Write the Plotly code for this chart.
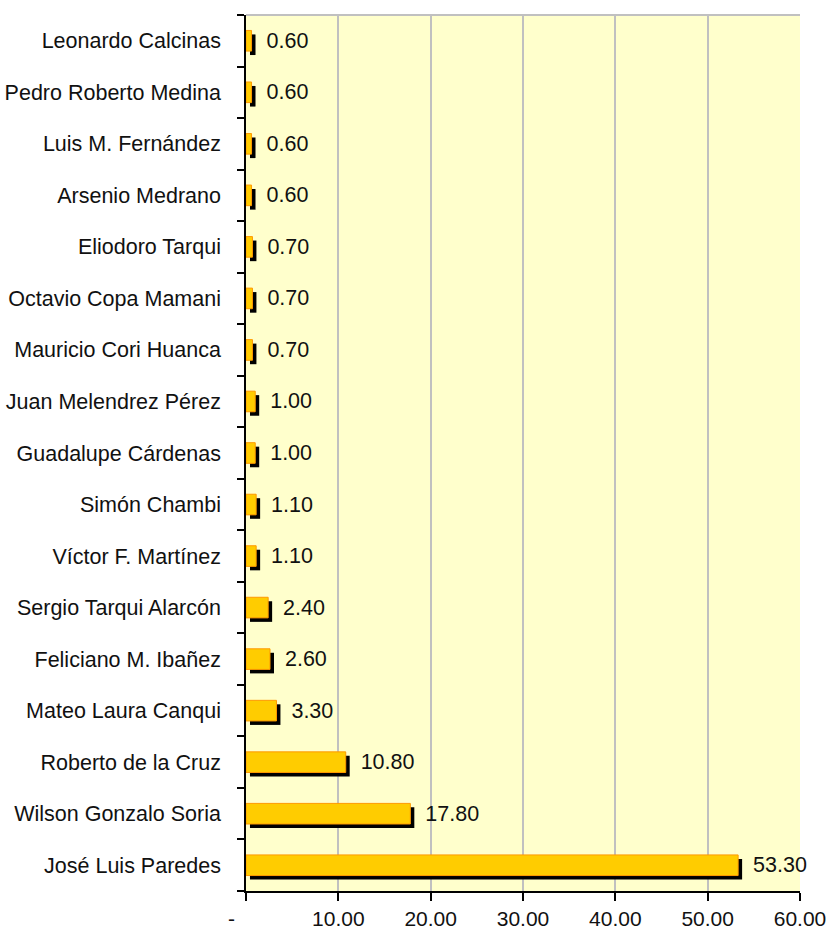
import plotly.graph_objects as go

# Data (top to bottom as shown in the chart)
names = [
    "Leonardo Calcinas", "Pedro Roberto Medina", "Luis M. Fernández", "Arsenio Medrano",
    "Eliodoro Tarqui", "Octavio Copa Mamani", "Mauricio Cori Huanca", "Juan Melendrez Pérez",
    "Guadalupe Cárdenas", "Simón Chambi", "Víctor F. Martínez", "Sergio Tarqui Alarcón",
    "Feliciano M. Ibañez", "Mateo Laura Canqui", "Roberto de la Cruz", "Wilson Gonzalo Soria",
    "José Luis Paredes",
]
values = [0.6, 0.6, 0.6, 0.6, 0.7, 0.7, 0.7, 1.0, 1.0, 1.1, 1.1, 2.4, 2.6, 3.3, 10.8, 17.8, 53.3]
tick_vals = [0, 10, 20, 30, 40, 50, 60]
tick_text = ["-\u00a0\u00a0\u00a0\u00a0\u00a0", "10.00", "20.00", "30.00", "40.00", "50.00", "60.00"]

# Plotly stacks categories bottom-up, so reverse
y_cat = names[::-1]
x_val = values[::-1]
labels = ["\u00a0\u00a0" + f"{v:.2f}" for v in x_val]

FONT = "Liberation Sans, Arial, sans-serif"
shadow_dx = 0.43      # shadow shift along value axis (style)
bar_w = 0.40

fig = go.Figure()
# shadow
fig.add_trace(go.Bar(
    y=y_cat, x=x_val, base=shadow_dx, orientation="h",
    width=bar_w, offset=-bar_w / 2 - 0.077,
    marker=dict(color="#000000", line=dict(width=0)),
    hoverinfo="skip", showlegend=False,
))
# main bars
fig.add_trace(go.Bar(
    y=y_cat, x=x_val, orientation="h",
    width=bar_w, offset=-bar_w / 2,
    marker=dict(color="#FFCC00", line=dict(color="#FF9900", width=1)),
    text=labels, textposition="outside", constraintext="none",
    textfont=dict(family=FONT, size=21.5, color="#111111"),
    cliponaxis=False, showlegend=False,
))

fig.update_layout(
    width=827, height=933,
    margin=dict(l=246, r=27, t=15, b=42, autoexpand=False),
    barmode="overlay",
    paper_bgcolor="#FFFFFF",
    plot_bgcolor="#FFFFCC",
    font=dict(family=FONT, size=21, color="#111111"),
    xaxis=dict(
        range=[0, 60], tickvals=tick_vals, ticktext=tick_text,
        showgrid=True, gridcolor="#C0C0C0", gridwidth=1.5,
        showline=True, linecolor="#000000", linewidth=1.5,
        ticks="outside", ticklen=8, tickcolor="#000000", tickwidth=1.5,
        ticklabelstandoff=0,
        tickfont=dict(family=FONT, size=21, color="#111111"),
        zeroline=False, fixedrange=True, automargin=False,
    ),
    yaxis=dict(
        type="category", categoryorder="array", categoryarray=y_cat,
        tickson="boundaries", ticks="outside", ticklen=7,
        tickcolor="#000000", tickwidth=1.5,
        showline=True, linecolor="#000000", linewidth=1.5,
        showgrid=False, ticklabelstandoff=19,
        tickfont=dict(family=FONT, size=21.5, color="#111111"),
        fixedrange=True, automargin=False,
    ),
    shapes=[dict(type="line", xref="paper", yref="paper", x0=0, x1=1, y0=1, y1=1,
                 line=dict(color="#C0C0C0", width=2))],
)

fig.write_html(
    "out.html",
    config={"displayModeBar": False},
    post_script="document.body.style.margin='0px';document.body.style.overflow='hidden';",
)
